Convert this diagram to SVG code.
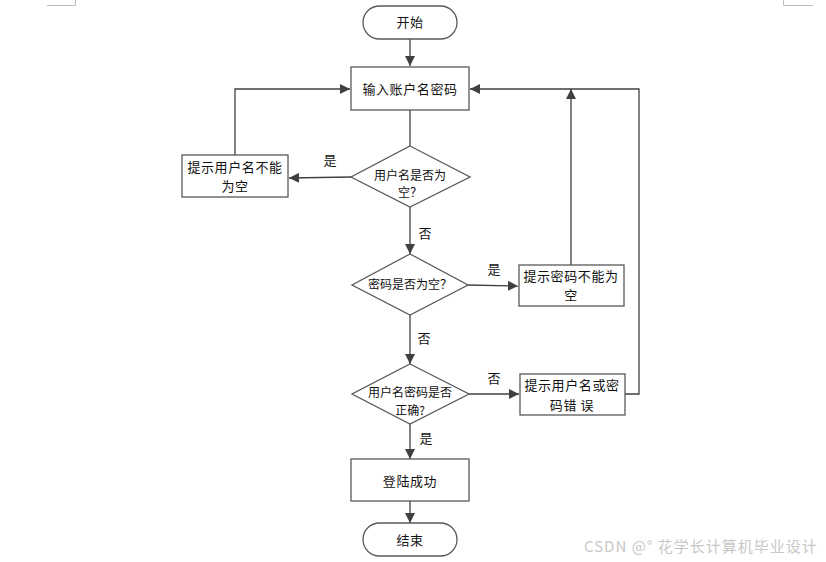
<svg xmlns="http://www.w3.org/2000/svg" width="826" height="562" viewBox="0 0 826 562">
<defs>
<style>
.shape{fill:#fff;stroke:#595959;stroke-width:1.3}
.line{fill:none;stroke:#404040;stroke-width:1.3}
.t{font-family:"Noto Sans CJK SC","Noto Sans",sans-serif;font-size:13px;fill:#111;text-anchor:middle;letter-spacing:0.6px}
.d{font-size:12px;letter-spacing:0}
.lbl{font-family:"Noto Sans CJK SC","Noto Sans",sans-serif;font-size:13px;fill:#111;text-anchor:middle}
.corner{fill:none;stroke:#bdbdbd;stroke-width:1}
.wm{font-family:"Noto Sans CJK SC","Noto Sans",sans-serif;font-size:15px;fill:#c8c8c8;letter-spacing:1px}
</style>
<marker id="arr" viewBox="0 0 10 10" refX="10" refY="5" markerWidth="10" markerHeight="10" markerUnits="userSpaceOnUse" orient="auto">
<path d="M0,0 L10,5 L0,10 z" fill="#404040"/>
</marker>
</defs>
<rect width="826" height="562" fill="#fff"/>
<path class="corner" d="M47,5.5 H75.5 V0 M783.5,0 V5.5 H813"/>

<g id="connectors">
<path class="line" d="M410,39 V66" marker-end="url(#arr)"/>
<path class="line" d="M410,110 V146" />
<path class="line" d="M351,177 L289,178" marker-end="url(#arr)"/>
<path class="line" d="M235,155 V89 H350" marker-end="url(#arr)"/>
<path class="line" d="M410,207 V254" marker-end="url(#arr)"/>
<path class="line" d="M468,285 L518,286" marker-end="url(#arr)"/>
<path class="line" d="M571,265 V89" marker-end="url(#arr)"/>
<path class="line" d="M410,315 V364" marker-end="url(#arr)"/>
<path class="line" d="M469,394 H519" marker-end="url(#arr)"/>
<path class="line" d="M625,394 H639 V89 H470" marker-end="url(#arr)"/>
<path class="line" d="M410,424 V459" marker-end="url(#arr)"/>
<path class="line" d="M410,501 V523" marker-end="url(#arr)"/>
<text class="lbl" x="330" y="165">是</text>
<text class="lbl" x="425" y="238">否</text>
<text class="lbl" x="494" y="274">是</text>
<text class="lbl" x="424" y="343">否</text>
<text class="lbl" x="494" y="383">否</text>
<text class="lbl" x="426" y="443">是</text>
</g>

<g id="start">
<rect class="shape" x="363" y="6" width="94" height="33" rx="16.5"/>
<text class="t" x="410" y="27">开始</text>
</g>
<g id="input">
<rect class="shape" x="351" y="67" width="118" height="43"/>
<text class="t" x="410" y="94">输入账户名密码</text>
</g>
<g id="check-user">
<polygon class="shape" points="410,146 470,177 410,207 351,177"/>
<text class="t d" x="410" y="180">用户名是否为</text>
<text class="t d" x="410" y="197">空？</text>
</g>
<g id="user-empty">
<rect class="shape" x="182" y="155" width="106" height="42"/>
<text class="t" x="235" y="172">提示用户名不能</text>
<text class="t" x="235" y="191">为空</text>
</g>
<g id="check-pass">
<polygon class="shape" points="410,254 468,285 410,315 352,285"/>
<text class="t d" x="410" y="289">密码是否为空？</text>
</g>
<g id="pass-empty">
<rect class="shape" x="519" y="265" width="105" height="41"/>
<text class="t" x="571" y="281">提示密码不能为</text>
<text class="t" x="571" y="300">空</text>
</g>
<g id="check-correct">
<polygon class="shape" points="410,364 469,394 410,424 352,394"/>
<text class="t d" x="410" y="397">用户名密码是否</text>
<text class="t d" x="410" y="415">正确?</text>
</g>
<g id="wrong">
<rect class="shape" x="520" y="374" width="105" height="41"/>
<text class="t" x="572" y="390">提示用户名或密</text>
<text class="t" x="572" y="410">码错 误</text>
</g>
<g id="success">
<rect class="shape" x="351" y="459" width="118" height="42"/>
<text class="t" x="410" y="486">登陆成功</text>
</g>
<g id="end">
<rect class="shape" x="363" y="523" width="94" height="33" rx="16.5"/>
<text class="t" x="410" y="545">结束</text>
</g>
<text class="wm" x="584" y="552">CSDN @° 花学长计算机毕业设计</text>
</svg>
